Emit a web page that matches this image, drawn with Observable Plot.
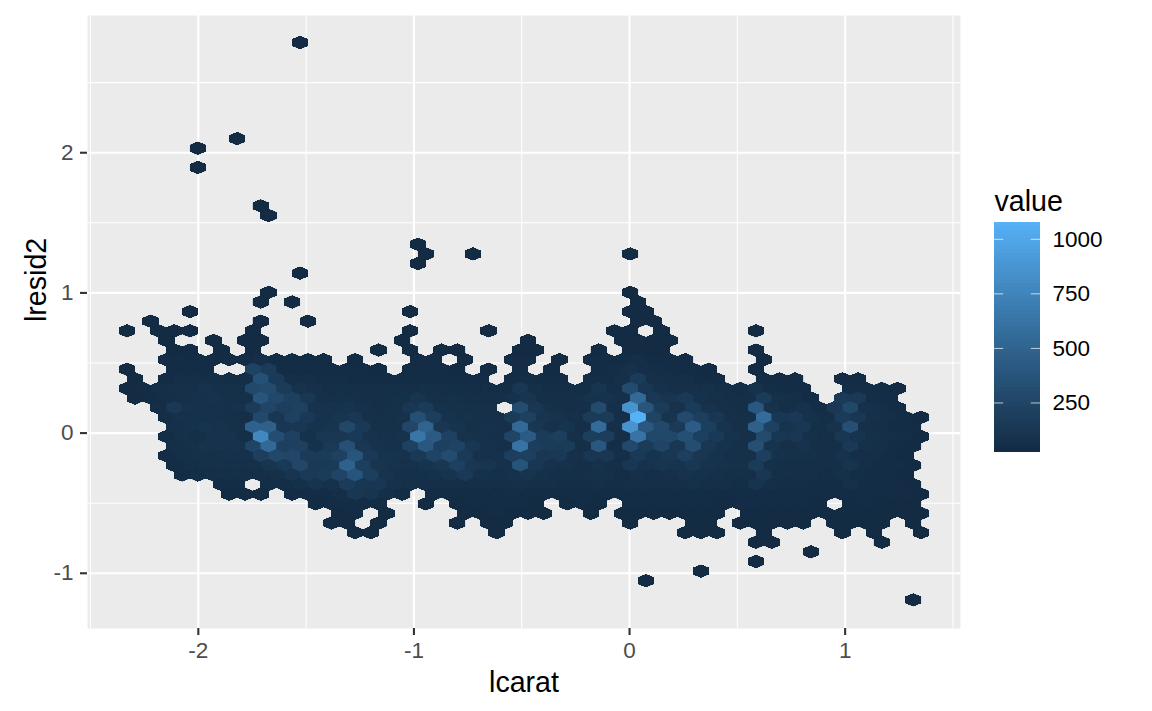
<!DOCTYPE html>
<html>
<head>
<meta charset="utf-8">
<script src="https://cdn.jsdelivr.net/npm/d3@7"></script>
<script src="https://cdn.jsdelivr.net/npm/@observablehq/plot@0.6"></script>
<style>
html,body{margin:0;padding:0;background:#fff;}
#chart{position:relative;width:1152px;height:711px;font-family:"Liberation Sans",Arial,sans-serif;}
#chart svg{position:absolute;overflow:visible;background:transparent;}
</style>
</head>
<body>
<div id="chart"></div>
<script>
// Each row of the hexagonal binning lists runs: [first half-column, count, count, ...]; a count of 0 is an empty bin.
const row00=[[0,30]];
const row10=[[-8,30]];
const row11=[[-13,30]];
const row13=[[-13,30]];
const row17=[[-5,30]];
const row18=[[-4,30]];
const row21=[[15,30]];
const row22=[[16,30],[22,30],[42,30]];
const row23=[[15,30]];
const row24=[[0,30]];
const row26=[[-4,30],[42,30]];
const row27=[[-5,30],[-1,30],[43,30]];
const row28=[[-14,30],[14,30],[42,30,30]];
const row29=[[-19,30],[-5,30],[1,30],[43,30,30]];
const row30=[[-22,30],[-18,30,30,30],[-6,30],[14,30],[24,30],[40,30,30],[46,30],[58,30]];
const row31=[[-17,30],[-11,30],[-7,30,30],[13,30],[29,30],[41,30,30,30,30]];
const row32=[[-16,30,30],[-10,30],[-6,30],[10,30],[14,30],[18,30,30],[28,30,30],[38,30],[42,30,30,30],[58,30]];
const row33=[[-17,35,45,40,35,35,40,60,45,40,40,35],[7,30],[15,35,35],[21,30],[27,35,35],[33,30],[37,35,35,45,60,40,40,35],[59,30]];
const row34=[[-22,30],[-16,40,45,40],[-6,230,170,45,40,40,40,35,35,30],[14,40,40,35,30],[24,30],[28,35],[32,30],[38,45,50,80,60,50,45,40,30],[58,30]];
const row35=[[-21,30],[-17,45,55,60,55,50,55,350,160,60,55,50,50,45,45,45,45,45,40,40,40,35],[27,45,50,40,35],[37,50,50,70,170,70,55,55,45,35],[59,40,35,35],[69,35,35]];
const row36=[[-22,30,35,60,70,70,90,70,65,280,300,170,90,70,60,60,55,55,55,60,60,55,50,50,50,50,120,60,50,50,50,110,60,300,120,80,70,70,65,55,50,90,50,45,35],[70,50,50,40,30]];
const row37=[[-21,30,40,60,70,80,85,70,65,380,270,210,130,70,65,70,60,60,65,110,70,65,60,60,60,80,110,60,55,55,90,90,70,540,140,110,150,80,70,60,60,170,70,60,40],[69,160,150,50,35]];
const row38=[[-18,50,140,90,80,75,75,170,250,190,220,90,90,100,80,60,70,120,170,80,70,65,70,0,310,130,70,60,60,300,70,860,380,170,90,170,90,70,60,400,90,60,80,50,140,270,80,60,35]];
const row39=[[-17,60,80,80,75,70,60,280,120,220,150,90,110,120,70,65,80,330,190,90,80,70,70,170,220,110,85,70,170,170,60,1077,230,110,290,200,130,70,65,560,120,140,80,60,170,130,70,60,45,30]];
const row40=[[-16,70,75,100,90,70,480,470,120,120,90,110,270,150,70,70,260,500,120,100,70,80,70,540,130,80,100,60,560,70,860,400,280,160,440,200,100,70,470,220,100,130,60,90,330,70,60,45,35]];
const row41=[[-17,50,70,55,90,90,60,780,320,220,80,130,130,150,90,80,90,640,420,220,90,75,70,240,430,170,190,70,200,180,60,620,270,270,330,210,150,90,70,300,120,120,70,60,130,100,65,60,50,30]];
const row42=[[-16,60,65,85,90,85,240,540,210,220,80,150,340,130,90,80,220,400,210,230,120,75,70,620,180,170,170,60,400,50,280,170,240,130,320,130,90,70,330,100,70,90,60,60,150,65,55,45,30]];
const row43=[[-17,35,60,70,70,80,75,190,270,260,170,170,220,380,150,100,90,150,230,310,160,80,75,190,210,130,140,70,120,120,60,150,100,130,190,120,90,70,70,190,80,65,65,55,90,60,55,45,30]];
const row44=[[-16,40,55,65,70,65,70,110,150,260,150,160,480,200,110,85,80,100,130,210,130,110,75,370,130,80,75,60,80,55,120,90,110,100,130,90,75,70,170,70,60,60,55,60,100,55,45,40,30]];
const row45=[[-15,35,50,55,55,55,55,70,110,160,170,240,370,200,100,70,65,80,100,150,80,65,80,100,70,60,55,70,70,50,70,60,70,90,75,70,60,60,120,60,55,55,50,70,50,45,40,30]];
const row46=[[-10,40,45,0,50,50,65,100,80,170,130,130,75,65,60,55,55,55,60,55,70,60,55,50,50,55,50,60,55,55,60,65,55,55,50,100,55,50,50,45,45,70,45,40,35,30]];
const row47=[[-9,30,35,30,0,35,40,45,60,120,110,60,40,0,40,40,40,45,45,50,45,40,40,40,40,40,40,40,40,40,40,45,40,40,40,45,40,40,40,40,40,40,40,35,35,30]];
const row48=[[2,30,35,40,45,35,0,0,30,0,30,35,40,35,40,30,0,30,35,30,0,35,35,35,35,40,35,30,35,40,35,35,35,30,0,30,35,30,30,30]];
const row49=[[5,30,35,0,30],[21,30,30,35,30,30,30],[37,30],[41,30,30,30,30,30,30,30],[57,30,30,30,30,30,30,30,30,30,30,30,30]];
const row50=[[4,30,30],[10,30],[20,30],[24,30,30],[42,30],[50,30,30],[56,30,30,30,30,30],[68,30,30,30,30],[78,30]];
const row51=[[7,30,30],[25,30],[49,30,30,30],[59,30],[69,30],[73,30],[79,30]];
const row52=[[58,30,30],[74,30]];
const row53=[[65,30]];
const row54=[[58,30]];
const row55=[[51,30]];
const row56=[[44,30]];
const row58=[[78,30]];
const rowIndex=[0,10,11,13,17,18,21,22,23,24,26,27,28,29,30,31,32,33,34,35,36,37,38,39,40,41,42,43,44,45,46,47,48,49,50,51,52,53,54,55,56,58];
const rowRuns=[row00,row10,row11,row13,row17,row18,row21,row22,row23,row24,row26,row27,row28,row29,row30,row31,row32,row33,row34,row35,row36,row37,row38,row39,row40,row41,row42,row43,row44,row45,row46,row47,row48,row49,row50,row51,row52,row53,row54,row55,row56,row58];

const xTicks=[-2,-1,0,1];
const xMinor=[-2.5,-1.5,-0.5,0.5,1.5];
const yTicks=[-1,0,1,2];
const yMinor=[-0.5,0.5,1.5,2.5];
const legendTicks=[250,500,750,1000];

// bin lattice of the hexagons, in data units
const lcaratOrigin=-1.5283, lcaratHalfStep=0.03646;
const lresidOrigin=2.7864, lresidStep=0.06856;

const bins=[];
rowRuns.forEach((runs,i)=>{
  for(const [first,...counts] of runs){
    counts.forEach((value,j)=>{
      if(value>0) bins.push({
        lcarat:lcaratOrigin+lcaratHalfStep*(first+2*j),
        lresid2:lresidOrigin-lresidStep*rowIndex[i],
        value
      });
    });
  }
});

const colorScale={type:"linear",domain:[23,1077],range:["#132B43","#56B1F7"],interpolate:d3.interpolateLab};

// hexagon stretched like the reference: the bin lattice is not regular in pixels
const squatHexagon={draw(ctx,size){
  const rx=Math.sqrt(size/Math.PI), ry=rx*0.8145, h=ry/2;
  ctx.moveTo(0,-ry);ctx.lineTo(rx,-h);ctx.lineTo(rx,h);ctx.lineTo(0,ry);ctx.lineTo(-rx,h);ctx.lineTo(-rx,-h);ctx.closePath();
}};

const main=Plot.plot({
  width:1152,height:711,
  marginLeft:87,marginRight:192,marginTop:15,marginBottom:83,
  style:{fontFamily:'"Liberation Sans",Arial,sans-serif',background:"transparent"},
  x:{domain:[-2.514,1.535],label:null},
  y:{domain:[-1.394,2.979],label:null},
  color:colorScale,
  marks:[
    Plot.frame({fill:"#EBEBEB",stroke:"none"}),
    Plot.ruleX(xMinor,{stroke:"#fff",strokeWidth:1.05}),
    Plot.ruleY(yMinor,{stroke:"#fff",strokeWidth:1.05}),
    Plot.ruleX(xTicks,{stroke:"#fff",strokeWidth:2.1}),
    Plot.ruleY(yTicks,{stroke:"#fff",strokeWidth:2.1}),
    // a slightly larger aliased layer closes the seams between neighbouring bins
    Plot.dot(bins,{x:"lcarat",y:"lresid2",fill:"value",r:8.2,symbol:squatHexagon,shapeRendering:"crispEdges"}),
    Plot.dot(bins,{x:"lcarat",y:"lresid2",fill:"value",r:7.87,symbol:squatHexagon}),
    Plot.axisX({ticks:xTicks,tickSize:7,tickPadding:7,tickFormat:d=>`${d}`,label:null,stroke:"#333333",strokeWidth:2.1,fill:"#4D4D4D",fontSize:22.5}),
    Plot.axisY({ticks:yTicks,tickSize:7,tickPadding:7,tickFormat:d=>`${d}`,label:null,stroke:"#333333",strokeWidth:2.1,fill:"#4D4D4D",fontSize:22.5}),
    Plot.text(["lcarat"],{frameAnchor:"bottom",dy:54,fontSize:28.6,fill:"#000",lineAnchor:"middle"}),
    Plot.text(["lresid2"],{frameAnchor:"left",dx:-51,rotate:-90,fontSize:28.6,fill:"#000",lineAnchor:"middle"})
  ]
});
document.getElementById("chart").appendChild(main);
main.style.left="0px";main.style.top="0px";

// colour bar, drawn as its own small plot sharing the same colour scale
const steps=d3.range(60).map(i=>({y1:23+i*(1077-23)/60,y2:23+(i+1)*(1077-23)/60}));
const legend=Plot.plot({
  width:140,height:290,
  marginLeft:14,marginRight:80,marginTop:42,marginBottom:18,
  style:{fontFamily:'"Liberation Sans",Arial,sans-serif',background:"transparent"},
  x:{domain:[0,1],axis:null},
  y:{domain:[23,1077],axis:null},
  color:colorScale,
  marks:[
    Plot.rectY(steps,{x1:0,x2:1,y1:"y1",y2:"y2",fill:d=>(d.y1+d.y2)/2,shapeRendering:"crispEdges"}),
    Plot.ruleY(legendTicks,{x1:0,x2:0.2,stroke:"#fff",strokeWidth:1,strokeOpacity:0.7}),
    Plot.ruleY(legendTicks,{x1:0.8,x2:1,stroke:"#fff",strokeWidth:1,strokeOpacity:0.7}),
    Plot.text(legendTicks,{y:d=>d,x:1,text:d=>`${d}`,dx:12,textAnchor:"start",fontSize:22.5,fill:"#000",lineAnchor:"middle"}),
    Plot.text(["value"],{frameAnchor:"top-left",dy:-12,dx:0,textAnchor:"start",fontSize:28.6,fill:"#000",lineAnchor:"bottom"})
  ]
});
document.getElementById("chart").appendChild(legend);
legend.style.left="980px";legend.style.top="180px";
</script>
</body>
</html>
